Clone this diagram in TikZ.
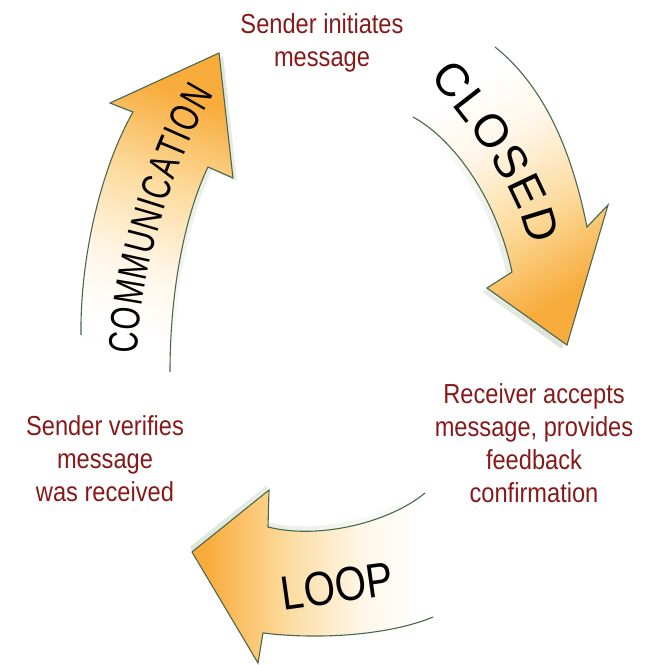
\documentclass[tikz,border=0pt]{standalone}
\usepackage{fontspec}
\setmainfont{Liberation Sans}
\newfontfamily\lblfont{Liberation Sans}[FakeStretch=0.86]
\newfontfamily\closedfont{Liberation Sans}
\newfontfamily\commfont{Liberation Sans}[FakeStretch=0.72]
\newfontfamily\loopfont{Liberation Sans}[FakeStretch=0.84]
\usetikzlibrary{decorations.text,fadings}
\definecolor{arrorange}{RGB}{248,172,60}
\definecolor{arrmid}{RGB}{252,220,160}
\definecolor{arrcream}{RGB}{255,246,232}
\definecolor{edgegreen}{RGB}{72,104,78}
\definecolor{shadowgray}{RGB}{222,228,216}
\definecolor{lblred}{RGB}{134,26,26}
\pgfdeclareverticalshading{arrowfill}{100bp}{color(0bp)=(arrorange); color(28bp)=(arrorange); color(45bp)=(arrmid); color(60bp)=(arrcream); color(72bp)=(white); color(100bp)=(white)}
\tikzset{
  closedarrow/.style={insert path={(495,47) .. controls (545,87) and (572,152) .. (587,227) -- (608,205) -- (567,345) -- (487,288) -- (512,272) .. controls (497,200) and (455,140) .. (413,117)}},
  commarrow/.style={insert path={(81,335) .. controls (80,260) and (100,170) .. (133,112) -- (110,103) -- (219,53) -- (233,178) -- (208,167) .. controls (185,215) and (170,290) .. (170,372)}},
  looparrow/.style={insert path={(425,493) .. controls (390,522) and (320,540) .. (268,527) -- (269,490) -- (192,552) -- (258,663) -- (263,633) .. controls (320,640) and (390,635) .. (433,617)}},
  arrowedge/.style={draw=edgegreen, line width=1.1pt, line join=miter},
  arrowshadow/.style={fill=shadowgray},
  lbl/.style={anchor=north, align=center, inner sep=0pt, text=lblred, font=\lblfont\fontsize{27.5}{33}\selectfont},
}
\begin{document}
\begin{tikzpicture}[x=1pt,y=-1pt]
\useasboundingbox (0,0) rectangle (646,665);
% shadows
\begin{scope}[shift={(-5,4)}]
  \path[arrowshadow, path fading=north, fading angle=35, closedarrow] -- cycle;
\end{scope}
\begin{scope}[shift={(4,3)}]
  \path[arrowshadow, path fading=south, commarrow] -- cycle;
\end{scope}
\begin{scope}[shift={(-2,-5)}]
  \path[arrowshadow, path fading=east, looparrow] -- cycle;
\end{scope}
% fills
\path[shading=arrowfill, shading angle=30, closedarrow] -- cycle;
\path[shading=arrowfill, shading angle=160, commarrow] -- cycle;
\path[shading=arrowfill, shading angle=-90, looparrow] -- cycle;
% edges
\path[arrowedge, closedarrow];
\path[arrowedge, commarrow];
\path[arrowedge, looparrow];
% arrow words
\path[decorate, decoration={text along path, text={|\closedfont\fontsize{46}{46}\selectfont|CLOSED}, text align={fit to path}}]
  (429,78) .. controls (471,124) and (519,192) .. (529,245);
\path[decorate, decoration={text along path, text={|\commfont\fontsize{41}{41}\selectfont|COMMUNICATION}, text align={fit to path}}]
  (138,354) .. controls (138,273) and (178,151) .. (214,94);
\node[rotate=8, inner sep=0pt, font=\loopfont\fontsize{48}{48}\selectfont] (looplbl) at (337,586) {LOOP};
% step labels
\node[lbl] (initiates) at (322,13) {Sender initiates\\message};
\node[lbl] (accepts) at (534,383) {Receiver accepts\\message, provides\\feedback\\confirmation};
\node[lbl] (verifies) at (105,415) {Sender verifies\\message\\was received};
\end{tikzpicture}
\end{document}
